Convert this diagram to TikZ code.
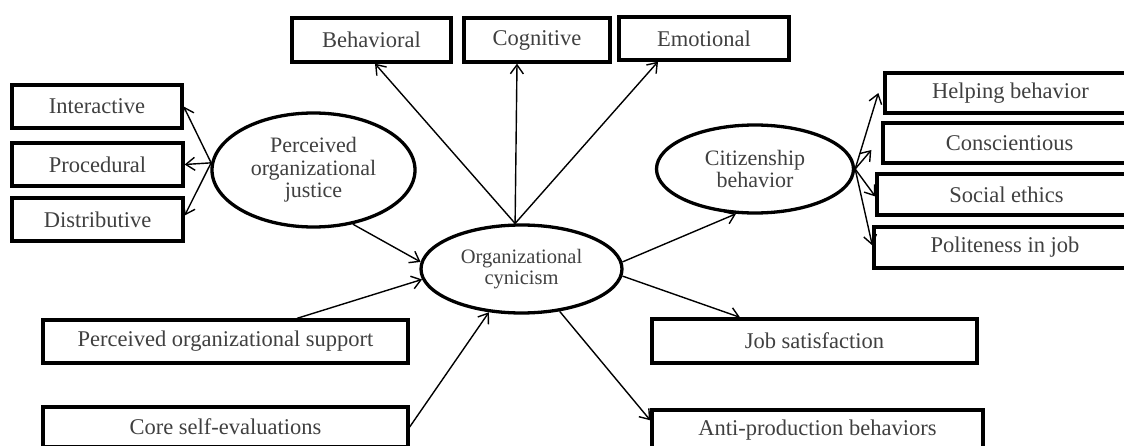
\documentclass[tikz,border=0pt]{standalone}
\usepackage{fontspec}
\setmainfont{Liberation Serif}
\usetikzlibrary{shapes.geometric,arrows.meta}
\begin{document}
\begin{tikzpicture}[x=1pt,y=-1pt,
  box/.style={draw=black,line width=3.3pt,rectangle,inner sep=0pt,
    font=\fontsize{22.5}{22}\selectfont,text=black!75},
  oval/.style={draw=black,line width=3.3pt,ellipse,inner sep=0pt,align=center,
    font=\fontsize{22}{22.5}\selectfont,text=black!75},
  arr/.style={line width=1.4pt,-{Straight Barb[length=9pt,width=13pt,line width=1.4pt]}}]
\useasboundingbox (0,0) rectangle (1124,446);
\fill[white] (0,0) rectangle (1124,446);
% top boxes
\node[box,minimum width=159pt,minimum height=44pt] (beh) at (371.5,40) {Behavioral};
\node[box,minimum width=146pt,minimum height=44pt] (cog) at (537,40) {Cognitive};
\node[box,minimum width=170pt,minimum height=43pt] (emo) at (704,38.5) {Emotional};
% left boxes
\node[box,minimum width=170pt,minimum height=43pt] (int) at (97,106.5) {Interactive};
\node[box,minimum width=171pt,minimum height=43pt] (pro) at (97.5,164.5) {Procedural};
\node[box,minimum width=171pt,minimum height=43pt] (dis) at (97.5,219.5) {Distributive};
% right boxes
\node[box,minimum width=251pt,minimum height=40pt] (help) at (1010.5,93) {Helping behavior};
\node[box,minimum width=253pt,minimum height=40pt] (cons) at (1009.5,143) {Conscientious};
\node[box,minimum width=259pt,minimum height=41pt] (soc) at (1006.5,194.5) {Social ethics};
\node[box,minimum width=262pt,minimum height=41pt] (pol) at (1005,247.5) {Politeness in job};
% bottom boxes
\node[box,minimum width=365pt,minimum height=43pt] (pos) at (225.5,341.5) {Perceived organizational support};
\node[box,minimum width=365pt,minimum height=40pt] (cse) at (225.5,427) {Core self-evaluations};
\node[box,minimum width=325pt,minimum height=44pt] (job) at (814.5,341) {Job satisfaction};
\node[box,minimum width=331pt,minimum height=40pt] (anti) at (817.5,430) {Anti-production behaviors};
% ellipses
\node[oval,minimum width=203pt,minimum height=114pt] (poj) at (313.5,170) {Perceived\\organizational\\justice};
\node[oval,minimum width=201pt,minimum height=88pt,font=\fontsize{20.5}{21}\selectfont] (oc) at (521.5,269) {Organizational\\cynicism};
\node[oval,minimum width=197pt,minimum height=88pt] (cb) at (755,169) {Citizenship\\behavior};
% arrows
\draw[arr] (poj.176) -- (int.east);
\draw[arr] (poj.176) -- (pro.east);
\draw[arr] (poj.176) -- ([yshift=4pt]dis.east);
\draw[arr] (poj.-54) -- (oc.176);
\draw[arr] ([xshift=71.5pt]pos.north) -- (oc.186);
\draw[arr] (cse.east) -- (oc.233);
\draw[arr] (oc.98) -- ([xshift=3.5pt]beh.south);
\draw[arr] (oc.98) -- ([xshift=-20pt]cog.south);
\draw[arr] (oc.98) -- ([xshift=-46pt]emo.south);
\draw[arr] (oc.4) -- (cb.247);
\draw[arr] (oc.-4) -- ([xshift=-74.5pt]job.north);
\draw[arr] (oc.-48) -- ([yshift=-12pt]anti.north west);
\draw[arr] (cb.east) -- ([xshift=-5pt]help.west);
\draw[arr] (cb.east) -- ([xshift=-10pt,yshift=-7pt]cons.west);
\draw[arr] (cb.east) -- ([yshift=-2pt]soc.west);
\draw[arr] (cb.east) -- ([yshift=2pt]pol.west);
\end{tikzpicture}
\end{document}
